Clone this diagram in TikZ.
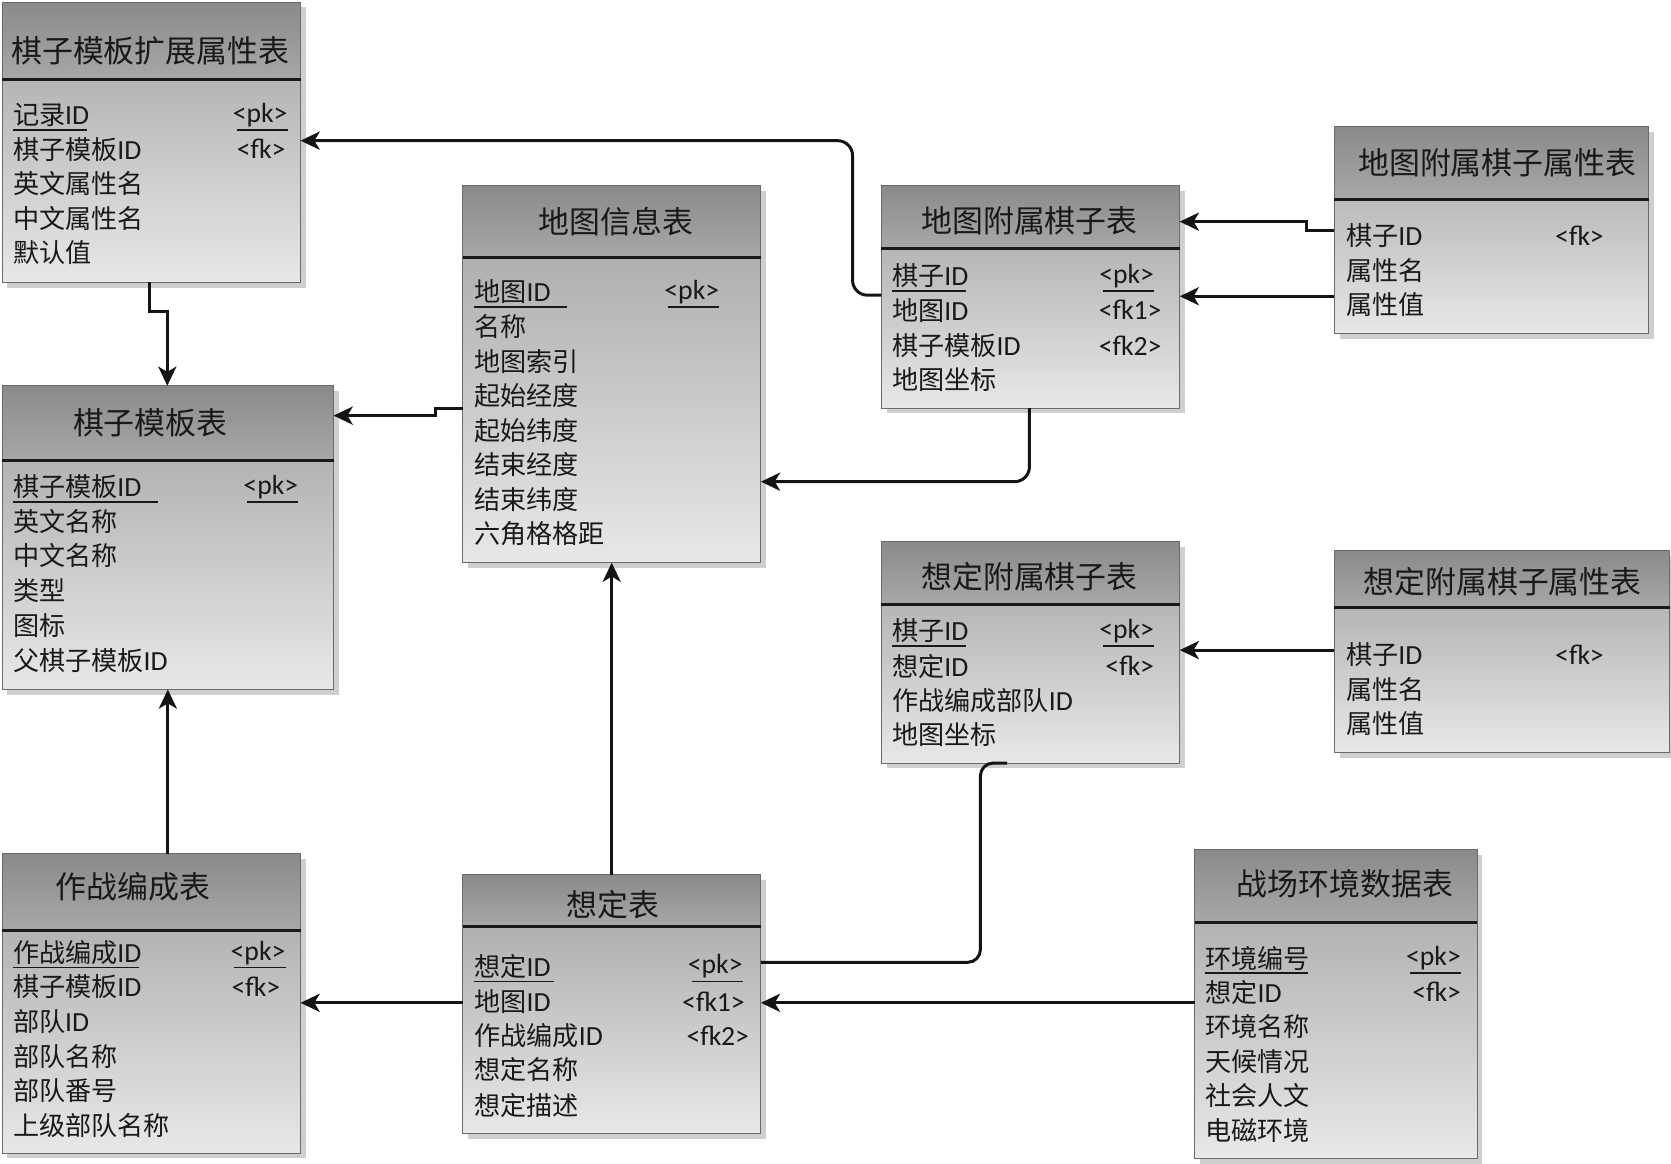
\documentclass[tikz,border=0pt]{standalone}
\usepackage{fontspec}
\setmainfont{Noto Sans CJK SC}
\newfontfamily\latf[Scale=1.06]{Carlito}
\usetikzlibrary{arrows.meta}
\newcommand\la[1]{{\latf #1}}
\definecolor{headtop}{HTML}{8A8A8A}
\definecolor{headbot}{HTML}{A8A8A8}
\definecolor{bodytop}{HTML}{A2A2A2}
\definecolor{bodybot}{HTML}{E8E8E8}
\definecolor{shadowc}{HTML}{CFCFCF}
\definecolor{bordc}{HTML}{6A6A6A}
\tikzset{
  tbody/.style={draw=bordc, line width=0.9pt, top color=bodytop, bottom color=bodybot, inner sep=0pt, outer sep=0pt},
  thead/.style={draw=bordc, line width=0.9pt, top color=headtop, bottom color=headbot, inner sep=0pt, outer sep=0pt},
  sepline/.style={line width=2.8pt, black!90},
  ttl/.style={font=\fontsize{29}{32}\selectfont, inner sep=0pt, text=black!90},
  rowt/.style={font=\fontsize{24.5}{27}\selectfont, inner sep=0pt, anchor=west, text=black!90},
  keyt/.style={font=\fontsize{24.5}{27}\selectfont, inner sep=0pt, anchor=east, text=black!90},
  uline/.style={line width=1.4pt, black!90},
  conn/.style={line width=2.8pt, black!92, -{Stealth[length=18pt,width=17pt,inset=5pt]}},
  connp/.style={line width=2.8pt, black!92},
}
\newcommand\ertab[9]{%
  \fill[shadowc] (#2+5,#3+5) rectangle (#4+5,#6+5);
  \node[tbody, minimum width={#4-#2}, minimum height={#6-#3}, anchor=north west] (#1) at (#2,#3) {};
  \node[thead, minimum width={#4-#2}, minimum height={#5-#3}, anchor=north west] (#1h) at (#2,#3) {};
  \draw[sepline] (#1h.south west) -- (#1h.south east);
  \node[ttl] (#1t) at (#8,#9) {#7};
}
\begin{document}
\begin{tikzpicture}[x=1pt,y=-1pt]
\useasboundingbox[fill=white] (0,0) rectangle (1568,1092);

% T1
\ertab{ta}{2}{2}{282}{75}{265}{棋子模板扩展属性表}{141}{48}
\node[rowt] (ta1) at (12,108) {记录\la{ID}};
\node[rowt] (ta2) at (12,140) {棋子模板\la{ID}};
\node[rowt] (ta3) at (12,172) {英文属性名};
\node[rowt] (ta4) at (12,205) {中文属性名};
\node[rowt] (ta5) at (12,237) {默认值};
\node[keyt] (tak1) at (270,108) {\la{<pk>}};
\node[keyt] (tak2) at (268,140) {\la{<fk>}};
\draw[uline] (12,122) -- (82,122);
\draw[uline] (222,122) -- (270,122);

% T2
\ertab{tb}{2}{362}{313}{432}{647}{棋子模板表}{141}{397}
\node[rowt] (tb1) at (12,457) {棋子模板\la{ID}};
\node[rowt] (tb2) at (12,489) {英文名称};
\node[rowt] (tb3) at (12,521) {中文名称};
\node[rowt] (tb4) at (12,554) {类型};
\node[rowt] (tb5) at (12,587) {图标};
\node[rowt] (tb6) at (12,620) {父棋子模板\la{ID}};
\node[keyt] (tbk1) at (280,457) {\la{<pk>}};
\draw[uline] (12,471) -- (148,471);
\draw[uline] (232,471) -- (280,471);

% T3
\ertab{tc}{434}{174}{714}{242}{528}{地图信息表}{578}{208}
\node[rowt] (tc1) at (445,274) {地图\la{ID}};
\node[rowt] (tc2) at (445,306) {名称};
\node[rowt] (tc3) at (445,339) {地图索引};
\node[rowt] (tc4) at (445,371) {起始经度};
\node[rowt] (tc5) at (445,404) {起始纬度};
\node[rowt] (tc6) at (445,436) {结束经度};
\node[rowt] (tc7) at (445,469) {结束纬度};
\node[rowt] (tc8) at (445,501) {六角格格距};
\node[keyt] (tck1) at (675,274) {\la{<pk>}};
\draw[uline] (445,288) -- (532,288);
\draw[uline] (627,288) -- (675,288);

% T4
\ertab{td}{827}{174}{1107}{233}{383}{地图附属棋子表}{966}{207}
\node[rowt] (td1) at (837,259) {棋子\la{ID}};
\node[rowt] (td2) at (837,291) {地图\la{ID}};
\node[rowt] (td3) at (837,324) {棋子模板\la{ID}};
\node[rowt] (td4) at (837,356) {地图坐标};
\node[keyt] (tdk1) at (1083,259) {\la{<pk>}};
\node[keyt] (tdk2) at (1090,291) {\la{<fk1>}};
\node[keyt] (tdk3) at (1090,324) {\la{<fk2>}};
\draw[uline] (837,273) -- (906,273);
\draw[uline] (1035,273) -- (1083,273);

% T5
\ertab{te}{1252}{119}{1547}{187}{313}{地图附属棋子属性表}{1405}{153}
\node[rowt] (te1) at (1263,221) {棋子\la{ID}};
\node[rowt] (te2) at (1263,254) {属性名};
\node[rowt] (te3) at (1263,286) {属性值};
\node[keyt] (tek1) at (1505,221) {\la{<fk>}};

% T6
\ertab{tf}{827}{508}{1107}{567}{716}{想定附属棋子表}{966}{541}
\node[rowt] (tf1) at (837,592) {棋子\la{ID}};
\node[rowt] (tf2) at (837,625) {想定\la{ID}};
\node[rowt] (tf3) at (837,657) {作战编成部队\la{ID}};
\node[rowt] (tf4) at (837,689) {地图坐标};
\node[keyt] (tfk1) at (1083,592) {\la{<pk>}};
\node[keyt] (tfk2) at (1083,625) {\la{<fk>}};
\draw[uline] (837,606) -- (906,606);
\draw[uline] (1035,606) -- (1083,606);

% T7
\ertab{tg}{1252}{517}{1567}{570}{706}{想定附属棋子属性表}{1410}{546}
\node[rowt] (tg1) at (1263,614) {棋子\la{ID}};
\node[rowt] (tg2) at (1263,647) {属性名};
\node[rowt] (tg3) at (1263,679) {属性值};
\node[keyt] (tgk1) at (1505,614) {\la{<fk>}};

% T8
\ertab{th}{2}{801}{282}{873}{1082}{作战编成表}{125}{832}
\node[rowt] (th1) at (12,894) {作战编成\la{ID}};
\node[rowt] (th2) at (12,926) {棋子模板\la{ID}};
\node[rowt] (th3) at (12,959) {部队\la{ID}};
\node[rowt] (th4) at (12,991) {部队名称};
\node[rowt] (th5) at (12,1023) {部队番号};
\node[rowt] (th6) at (12,1056) {上级部队名称};
\node[keyt] (thk1) at (268,894) {\la{<pk>}};
\node[keyt] (thk2) at (263,926) {\la{<fk>}};
\draw[uline] (12,908) -- (130,908);
\draw[uline] (220,908) -- (268,908);

% T9
\ertab{ti}{434}{821}{714}{869}{1064}{想定表}{575}{849}
\node[rowt] (ti1) at (445,907) {想定\la{ID}};
\node[rowt] (ti2) at (445,940) {地图\la{ID}};
\node[rowt] (ti3) at (445,972) {作战编成\la{ID}};
\node[rowt] (ti4) at (445,1004) {想定名称};
\node[rowt] (ti5) at (445,1037) {想定描述};
\node[keyt] (tik1) at (697,907) {\la{<pk>}};
\node[keyt] (tik2) at (699,940) {\la{<fk1>}};
\node[keyt] (tik3) at (703,972) {\la{<fk2>}};
\draw[uline] (445,921) -- (520,921);
\draw[uline] (649,921) -- (697,921);

% T10
\ertab{tj}{1121}{797}{1386}{866}{1087}{战场环境数据表}{1262}{829}
\node[rowt] (tj1) at (1131,899) {环境编号};
\node[rowt] (tj2) at (1131,931) {想定\la{ID}};
\node[rowt] (tj3) at (1131,963) {环境名称};
\node[rowt] (tj4) at (1131,996) {天候情况};
\node[rowt] (tj5) at (1131,1028) {社会人文};
\node[rowt] (tj6) at (1131,1061) {电磁环境};
\node[keyt] (tjk1) at (1371,899) {\la{<pk>}};
\node[keyt] (tjk2) at (1371,931) {\la{<fk>}};
\draw[uline] (1131,913) -- (1227,913);
\draw[uline] (1323,913) -- (1371,913);

% connectors
\draw[conn, rounded corners=14pt] (td.west |- 0,277) -- (800,277) -- (800,132) -- (ta.east |- 0,132);
\draw[conn] (ta.south -| 140,0) -- (140,292) -- (157,292) -- (tb.north -| 157,0);
\draw[conn] (tc.west |- 0,383) -- (409,383) -- (409,390) -- (tb.east |- 0,390);
\draw[conn, rounded corners=14pt] (td.south -| 966,0) -- (966,452) -- (tc.east |- 0,452);
\draw[conn] (te.west |- 0,216) -- (1226,216) -- (1226,208) -- (td.east |- 0,208);
\draw[conn] (te.west |- 0,278) -- (td.east |- 0,278);
\draw[conn] (tg.west |- 0,610) -- (tf.east |- 0,610);
\draw[connp, rounded corners=12pt] (tf.south -| 945,0) -- (920,716) -- (920,903) -- (ti.east |- 0,903);
\draw[conn] (ti.north) -- (tc.south);
\draw[conn] (ti.west |- 0,941) -- (th.east |- 0,941);
\draw[conn] (th.north -| tb.south) -- (tb.south);
\draw[conn] (tj.west |- 0,941) -- (ti.east |- 0,941);
\end{tikzpicture}
\end{document}
